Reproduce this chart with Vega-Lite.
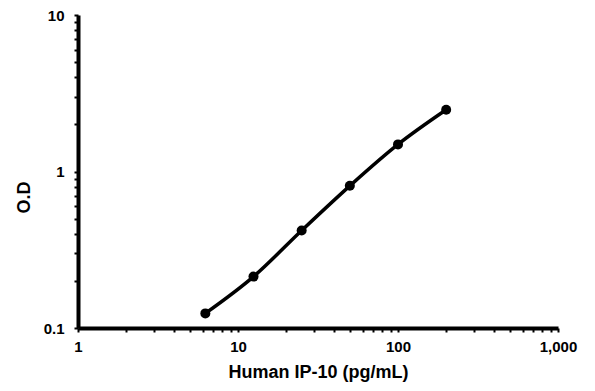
{
  "$schema": "https://vega.github.io/schema/vega-lite/v6.json",
  "width": 480,
  "height": 313,
  "autosize": {"type": "none"},
  "padding": {"left": 78, "top": 15, "right": 37, "bottom": 63},
  "background": "white",
  "config": {
    "view": {"stroke": null},
    "axis": {
      "grid": false,
      "domainColor": "black",
      "domainWidth": 4,
      "tickColor": "black",
      "tickWidth": 2,
      "tickSize": 4,
      "labelFont": "Liberation Sans",
      "labelFontWeight": "bold",
      "labelFontSize": 15,
      "labelColor": "black",
      "titleFont": "Liberation Sans",
      "titleFontWeight": "bold",
      "titleFontSize": 18,
      "titleColor": "black",
      "labelOverlap": false,
      "labelFlush": false
    }
  },
  "data": {
    "values": [
      {"conc": 6.25, "od": 0.124},
      {"conc": 12.5, "od": 0.213},
      {"conc": 25, "od": 0.42},
      {"conc": 50, "od": 0.81},
      {"conc": 100, "od": 1.49},
      {"conc": 200, "od": 2.48}
    ]
  },
  "encoding": {
    "x": {
      "field": "conc",
      "type": "quantitative",
      "scale": {"type": "log", "domain": [1, 1000], "nice": false},
      "axis": {
        "title": "Human IP-10 (pg/mL)",
        "values": [1,2,3,4,5,6,7,8,9,10,20,30,40,50,60,70,80,90,100,200,300,400,500,600,700,800,900,1000],
        "labelExpr": "datum.value == 1 ? '1' : datum.value == 10 ? '10' : datum.value == 100 ? '100' : datum.value == 1000 ? '1,000' : ''",
        "labelPadding": 7,
        "titlePadding": 9
      }
    },
    "y": {
      "field": "od",
      "type": "quantitative",
      "scale": {"type": "log", "domain": [0.1, 10], "nice": false},
      "axis": {
        "title": "O.D",
        "values": [0.1,0.2,0.3,0.4,0.5,0.6,0.7,0.8,0.9,1,2,3,4,5,6,7,8,9,10],
        "labelExpr": "datum.value == 0.1 ? '0.1' : datum.value == 1 ? '1' : datum.value == 10 ? '10' : ''",
        "labelPadding": 10,
        "titleX": -45,
        "titleY": 182
      }
    }
  },
  "layer": [
    {
      "mark": {"type": "line", "interpolate": "monotone", "color": "black", "strokeWidth": 3.5}
    },
    {
      "mark": {"type": "point", "filled": true, "color": "black", "opacity": 1, "size": 100}
    }
  ]
}
